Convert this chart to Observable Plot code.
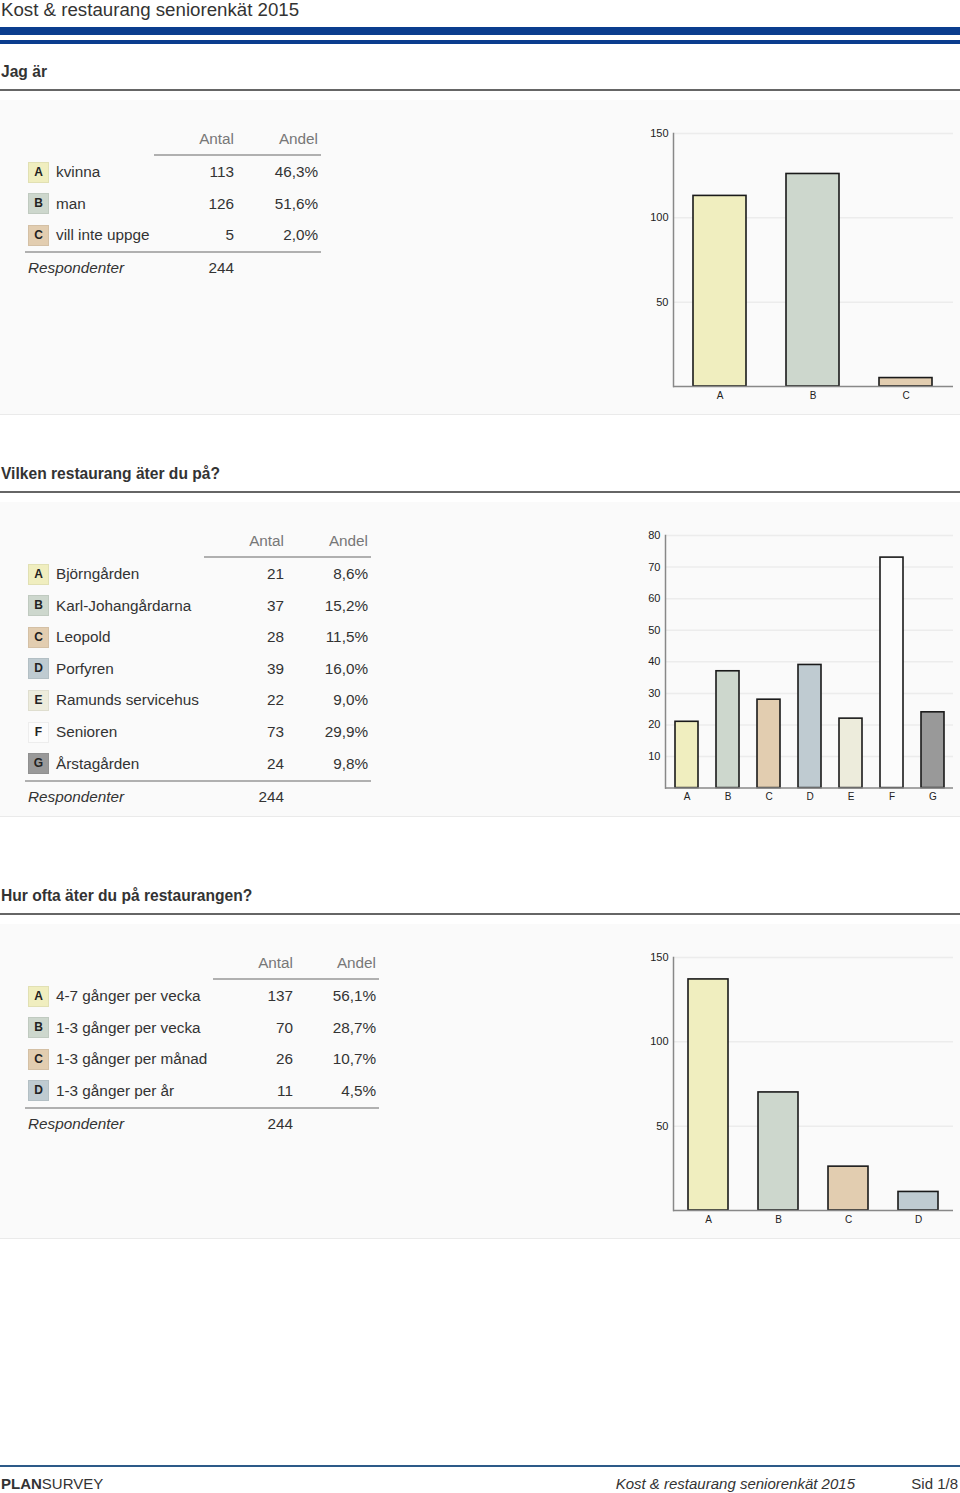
<!DOCTYPE html>
<html><head><meta charset="utf-8">
<script src="https://cdn.jsdelivr.net/npm/d3@7"></script>
<script src="https://cdn.jsdelivr.net/npm/@observablehq/plot@0.6"></script>
<style>
body{margin:0;background:#fff;font-family:"Liberation Sans",Arial,sans-serif;color:#333}
#page{position:relative;width:960px;height:1493px;overflow:hidden;background:#fff}
.abs{position:absolute;white-space:nowrap}
</style></head><body><div id="page"></div>
<script>
// ---------- data ----------
const reportTitle = "Kost & restaurang seniorenkät 2015";
const footerBrandBold = "PLAN";
const footerBrandRest = "SURVEY";
const footerPage = "Sid 1/8";
const colAntal = "Antal";
const colAndel = "Andel";
const respLabel = "Respondenter";

const q1Title = "Jag är";
const q1Letters = ["A", "B", "C"];
const q1Labels = ["kvinna", "man", "vill inte uppge"];
const q1Counts = [113, 126, 5];
const q1Shares = ["46,3%", "51,6%", "2,0%"];
const q1Respondents = 244;
const q1Ticks = [50, 100, 150];

const q2Title = "Vilken restaurang äter du på?";
const q2Letters = ["A", "B", "C", "D", "E", "F", "G"];
const q2Labels = ["Björngården", "Karl-Johangårdarna", "Leopold", "Porfyren", "Ramunds servicehus", "Senioren", "Årstagården"];
const q2Counts = [21, 37, 28, 39, 22, 73, 24];
const q2Shares = ["8,6%", "15,2%", "11,5%", "16,0%", "9,0%", "29,9%", "9,8%"];
const q2Respondents = 244;
const q2Ticks = [10, 20, 30, 40, 50, 60, 70, 80];

const q3Title = "Hur ofta äter du på restaurangen?";
const q3Letters = ["A", "B", "C", "D"];
const q3Labels = ["4-7 gånger per vecka", "1-3 gånger per vecka", "1-3 gånger per månad", "1-3 gånger per år"];
const q3Counts = [137, 70, 26, 11];
const q3Shares = ["56,1%", "28,7%", "10,7%", "4,5%"];
const q3Respondents = 244;
const q3Ticks = [50, 100, 150];

const letterColors = ["#f0eebf", "#cdd7cd", "#e2cdb0", "#bfcbd1", "#edecdc", "#fcfcfc", "#999999"];

// ---------- layout helpers ----------
const page = document.getElementById("page");
function box(left, top, w, h, bg, extra) {
  const d = document.createElement("div");
  d.className = "abs";
  Object.assign(d.style, {left: left + "px", top: top + "px", width: w + "px", height: h + "px", background: bg}, extra || {});
  page.appendChild(d);
  return d;
}
function text(x, yc, str, opts = {}) {
  const d = document.createElement("div");
  d.className = "abs";
  const fs = opts.size || 15.3;
  Object.assign(d.style, {
    left: x + "px", top: (yc - 10) + "px", height: "20px", lineHeight: "20px",
    fontSize: fs + "px", color: opts.color || "#333",
    fontWeight: opts.bold ? "bold" : "normal", fontStyle: opts.italic ? "italic" : "normal"
  });
  if (opts.right) d.style.transform = "translateX(-100%)";
  if (opts.html) d.innerHTML = str; else d.textContent = str;
  page.appendChild(d);
  return d;
}

// header
text(1, 10, reportTitle, {size: 18.7, color: "#333"});
box(0, 27, 960, 8, "#0b3d8e");
box(0, 40, 960, 4, "#0b3d8e");

// footer
box(0, 1465, 960, 2, "#2d5a88");
text(1, 1484, `<b>${footerBrandBold}</b>${footerBrandRest}`, {size: 15, html: true, color: "#333"});
text(855, 1484, reportTitle, {size: 15, italic: true, right: true});
text(958, 1484, footerPage, {size: 15, right: true});

function section(cfg) {
  const {top, title, letters, labels, counts, shares, respondents, antalR, andelR, lineL, ticks, yMax, chart} = cfg;
  // heading + rule
  text(1, top, title, {bold: true, size: 15.6});
  box(0, top + 17, 960, 2, "#666");
  // panel
  box(0, top + 28, 960, 314, "#fafafa", {borderBottom: "1px solid #eaeaea"});
  // table
  const h = top + 67;
  text(antalR, h, colAntal, {right: true, color: "#777"});
  text(andelR, h, colAndel, {right: true, color: "#777"});
  box(lineL, h + 15, andelR + 3 - lineL, 2, "#b0b0b0");
  let y = h + 33;
  letters.forEach((L, i) => {
    const ci = q2Letters.indexOf(L);
    const b = box(28, y - 10.5, 21, 21, letterColors[ci], {boxShadow: "inset 0 0 0 1px rgba(0,0,0,0.06)", textAlign: "center", lineHeight: "21px", fontSize: "12px", fontWeight: "bold", color: "#222"});
    b.textContent = L;
    text(56, y, labels[i]);
    text(antalR, y, String(counts[i]), {right: true});
    text(andelR, y, shares[i], {right: true});
    y += 31.6;
  });
  const bl = y - 31.6 + 16;
  box(25, bl, andelR + 3 - 25, 2, "#b0b0b0");
  text(28, bl + 17, respLabel, {italic: true});
  text(antalR, bl + 17, String(respondents), {right: true});

  // chart
  const data = letters.map((L, i) => ({letter: L, value: counts[i], color: letterColors[q2Letters.indexOf(L)]}));
  const svg = Plot.plot({
    width: 330, height: 290,
    marginLeft: chart.ml, marginRight: 7, marginTop: chart.mt, marginBottom: chart.mb,
    style: {background: "transparent", fontFamily: "Liberation Sans, Arial, sans-serif", fontSize: "11px", color: "#222"},
    x: {domain: letters, paddingInner: chart.pi, paddingOuter: chart.pi / 2, label: null},
    y: {domain: [0, yMax], label: null},
    color: {type: "identity"},
    marks: [
      Plot.ruleY(ticks, {stroke: "#ececec", strokeWidth: 1.5}),
      Plot.barY(data, {x: "letter", y: "value", fill: "color", stroke: "#1a1a1a", strokeWidth: 1.6}),
      Plot.ruleY([0], {stroke: "#888", strokeWidth: 1.5}),
      Plot.frame({anchor: "left", stroke: "#888", strokeWidth: 1.5}),
      Plot.axisY({ticks, tickSize: 0, tickPadding: 5, fontSize: 11}),
      Plot.axisX({tickSize: 0, tickPadding: 5, fontSize: 10})
    ]
  });
  svg.style.position = "absolute";
  svg.style.left = "630px";
  svg.style.top = (top + 48) + "px";
  page.appendChild(svg);
}

section({top: 72, title: q1Title, letters: q1Letters, labels: q1Labels, counts: q1Counts, shares: q1Shares, respondents: q1Respondents,
  antalR: 234, andelR: 318, lineL: 154, ticks: q1Ticks, yMax: 150, chart: {ml: 43, mt: 13, mb: 24, pi: 0.43}});
section({top: 474, title: q2Title, letters: q2Letters, labels: q2Labels, counts: q2Counts, shares: q2Shares, respondents: q2Respondents,
  antalR: 284, andelR: 368, lineL: 204, ticks: q2Ticks, yMax: 80, chart: {ml: 35, mt: 13, mb: 24.4, pi: 0.45}});
section({top: 896, title: q3Title, letters: q3Letters, labels: q3Labels, counts: q3Counts, shares: q3Shares, respondents: q3Respondents,
  antalR: 293, andelR: 376, lineL: 213, ticks: q3Ticks, yMax: 150, chart: {ml: 43, mt: 13, mb: 24, pi: 0.43}});
</script></body></html>
